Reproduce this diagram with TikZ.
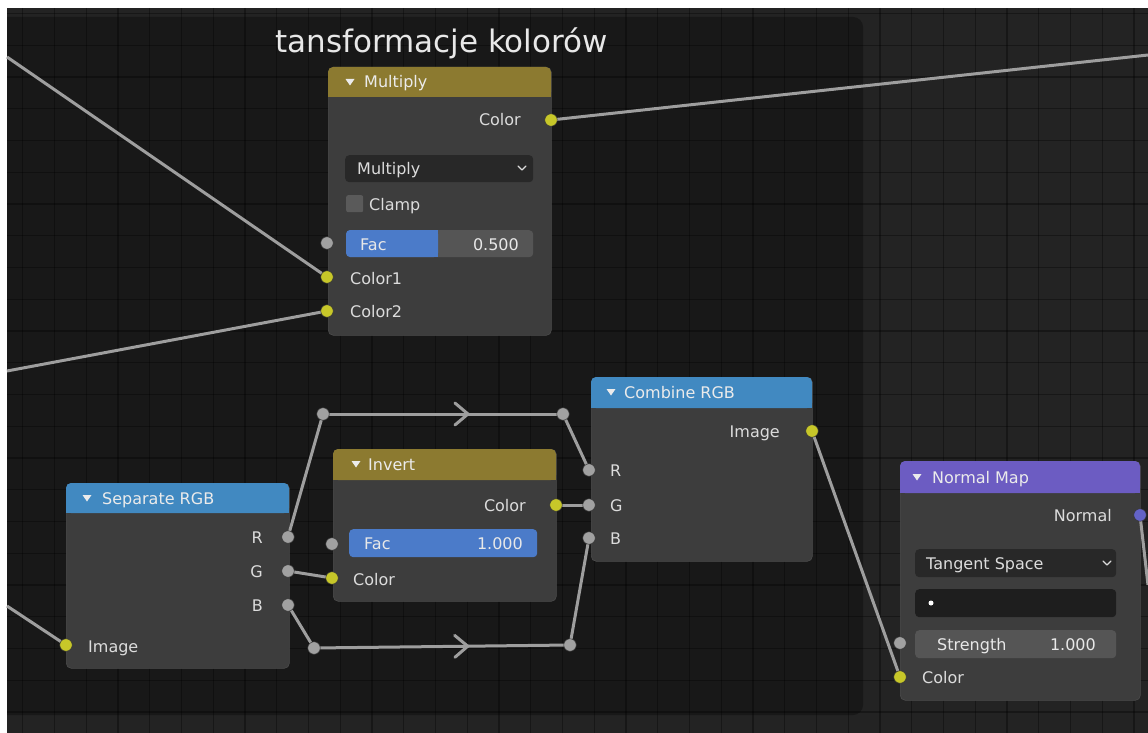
\documentclass[tikz,border=0pt]{standalone}
\usepackage{fontspec}
\setmainfont{DejaVu Sans}
\usetikzlibrary{decorations.markings}
\pgfdeclarelayer{bgl}
\pgfdeclarelayer{wirel}
\pgfsetlayers{bgl,wirel,main}
\definecolor{bgc}{HTML}{232323}
\definecolor{framec}{HTML}{181818}
\definecolor{bodyc}{HTML}{3D3D3D}
\definecolor{olivec}{HTML}{8C7A30}
\definecolor{bluehc}{HTML}{4189C1}
\definecolor{purplec}{HTML}{6C5CC2}
\definecolor{facblue}{HTML}{4B7BC9}
\definecolor{slgray}{HTML}{555555}
\definecolor{ddc}{HTML}{282828}
\definecolor{fieldc}{HTML}{1E1E1E}
\definecolor{txtc}{HTML}{DCDCDC}
\definecolor{titlec}{HTML}{E8E8E8}
\definecolor{wirec}{HTML}{9E9E9E}
\definecolor{ysockc}{HTML}{C7C729}
\definecolor{gsockc}{HTML}{A1A1A1}
\definecolor{bsockc}{HTML}{6363C7}
\definecolor{cbc}{HTML}{5A5A5A}
\tikzset{
  nbody/.style={anchor=north west, fill=bodyc, draw=black!70, line width=0.6pt, rounded corners=5pt, inner sep=0pt},
  widget/.style={anchor=north west, rounded corners=4pt, inner sep=0pt, draw=none},
  lbl/.style={text=txtc, font=\fontsize{16}{18}\selectfont, inner sep=0pt},
  hlbl/.style={text=white!92!black, font=\fontsize{16}{18}\selectfont, inner sep=0pt},
  sock/.style={circle, minimum size=12.5pt, inner sep=0pt, fill=#1, draw=black!80, line width=0.5pt},
  wire/.style={draw=wirec, line width=3pt, line cap=round},
  edgewire/.style={draw=wirec, line width=3pt, line cap=butt},
  gridline/.style={draw=black, opacity=0.32, line width=1.2pt},
  chev/.style={postaction={decorate}, decoration={markings, mark=at position #1 with {\draw[draw=wirec, line width=3pt, line cap=round, line join=round] (-13,-11) -- (0,0) -- (-13,11);}}}
}
\newcommand{\hdrtri}[2]{\fill[white!92!black] (#1-4.5,#2-3) -- (#1+4.5,#2-3) -- (#1,#2+3.5) -- cycle;}
\newcommand{\ddchev}[2]{\draw[txtc, line width=1.3pt, line cap=round, line join=round] (#1-4,#2-2) -- (#1,#2+2) -- (#1+4,#2-2);}
\begin{document}
\begin{tikzpicture}[x=1pt,y=-1pt]
\useasboundingbox (0,0) rectangle (1148,733);
\begin{pgfonlayer}{bgl}
\fill[white] (0,0) rectangle (1148,733);
\begin{scope}
\clip (7,8) rectangle (1148,733);
\fill[bgc] (7,8) rectangle (1148,733);
\fill[framec, rounded corners=10pt] (-20,17) rectangle (863,715);
\foreach \i in {0,...,37} { \draw[gridline] ({-9+31.75*\i},8) -- ({-9+31.75*\i},733); }
\foreach \j in {0,...,24} { \draw[gridline] (7,{-18.25+31.75*\j}) -- (1148,{-18.25+31.75*\j}); }
\end{scope}
\node[text=titlec, font=\fontsize{31}{35}\selectfont, inner sep=0pt, anchor=base west] (title) at (275,53) {tansformacje kolorów};

% ---------- Multiply ----------
\node[nbody, minimum width=223pt, minimum height=268pt] (mulbox) at (328,67) {};
\fill[olivec, rounded corners=5pt] (328,67) rectangle (551,97);
\fill[olivec] (328,88) rectangle (551,97);
\hdrtri{350}{82}
\node[hlbl, anchor=base west] (multitle) at (364,88) {Multiply};
\node[lbl, anchor=base east] (muloutlbl) at (521,126) {Color};
\node[widget, fill=ddc, minimum width=188pt, minimum height=27pt] (muldd) at (345,155) {};
\node[lbl, anchor=base west] (mulddlbl) at (357,174) {Multiply};
\ddchev{522}{168}
\node[widget, fill=cbc, rounded corners=2pt, minimum width=17pt, minimum height=17pt] (clampbox) at (346,195) {};
\node[lbl, anchor=base west] (clamplbl) at (369,210) {Clamp};
\node[widget, fill=slgray, minimum width=187pt, minimum height=27pt] (mulfac) at (346,230) {};
\fill[facblue, rounded corners=4pt] (346,230) rectangle (438,257);
\fill[facblue] (430,230) rectangle (438,257);
\node[lbl, text=titlec, anchor=base west] (mulfaclbl) at (360,250) {Fac};
\node[lbl, text=titlec, anchor=base east] (mulfacval) at (519,250) {0.500};
\node[lbl, anchor=base west] (mulc1lbl) at (350,284) {Color1};
\node[lbl, anchor=base west] (mulc2lbl) at (350,317) {Color2};

% ---------- Invert ----------
\node[nbody, minimum width=223pt, minimum height=152pt] (invbox) at (333,449) {};
\fill[olivec, rounded corners=5pt] (333,449) rectangle (556,480);
\fill[olivec] (333,470) rectangle (556,480);
\hdrtri{356}{464}
\node[hlbl, anchor=base west] (invtitle) at (368,470) {Invert};
\node[lbl, anchor=base east] (invoutlbl) at (526,511) {Color};
\node[widget, fill=facblue, minimum width=188pt, minimum height=28pt] (invfacw) at (349,529) {};
\node[lbl, text=titlec, anchor=base west] (invfaclbl) at (364,549) {Fac};
\node[lbl, text=titlec, anchor=base east] (invfacval) at (523,549) {1.000};
\node[lbl, anchor=base west] (invcollbl) at (353,585) {Color};

% ---------- Separate RGB ----------
\node[nbody, minimum width=223pt, minimum height=185pt] (sepbox) at (66,483) {};
\fill[bluehc, rounded corners=5pt] (66,483) rectangle (289,513);
\fill[bluehc] (66,504) rectangle (289,513);
\hdrtri{87}{498}
\node[hlbl, anchor=base west] (septitle) at (102,504) {Separate RGB};
\node[lbl, anchor=base east] (seprlbl) at (263,543) {R};
\node[lbl, anchor=base east] (sepglbl) at (263,577) {G};
\node[lbl, anchor=base east] (sepblbl) at (263,611) {B};
\node[lbl, anchor=base west] (sepimglbl) at (88,652) {Image};

% ---------- Combine RGB ----------
\node[nbody, minimum width=221pt, minimum height=184pt] (combox) at (591,377) {};
\fill[bluehc, rounded corners=5pt] (591,377) rectangle (812,408);
\fill[bluehc] (591,398) rectangle (812,408);
\hdrtri{611}{392}
\node[hlbl, anchor=base west] (comtitle) at (624,398) {Combine RGB};
\node[lbl, anchor=base east] (comoutlbl) at (780,437) {Image};
\node[lbl, anchor=base west] (comrlbl) at (610,476) {R};
\node[lbl, anchor=base west] (comglbl) at (610,511) {G};
\node[lbl, anchor=base west] (comblbl) at (610,544) {B};

% ---------- Normal Map ----------
\node[nbody, minimum width=240pt, minimum height=239pt] (nmbox) at (900,461) {};
\fill[purplec, rounded corners=5pt] (900,461) rectangle (1140,493);
\fill[purplec] (900,483) rectangle (1140,493);
\hdrtri{917}{477}
\node[hlbl, anchor=base west] (nmtitle) at (932,483) {Normal Map};
\node[lbl, anchor=base east] (nmoutlbl) at (1112,521) {Normal};
\node[widget, fill=ddc, minimum width=201pt, minimum height=28pt] (nmdd) at (915,549) {};
\node[lbl, anchor=base west] (nmddlbl) at (926,569) {Tangent Space};
\ddchev{1107}{563}
\node[widget, fill=fieldc, minimum width=201pt, minimum height=28pt] (nmuv) at (915,589) {};
\fill[white] (931,603) circle (2.5);
\node[widget, fill=slgray, minimum width=201pt, minimum height=28pt] (nmstrw) at (915,630) {};
\node[lbl, text=titlec, anchor=base west] (nmstrlbl) at (937,650) {Strength};
\node[lbl, text=titlec, anchor=base east] (nmstrval) at (1096,650) {1.000};
\node[lbl, anchor=base west] (nmcollbl) at (922,683) {Color};
\end{pgfonlayer}

% ---------- sockets ----------
\node[sock=ysockc] (mulout) at (551,120) {};
\node[sock=gsockc] (mulfacin) at (327,243) {};
\node[sock=ysockc] (mulc1) at (327,277) {};
\node[sock=ysockc] (mulc2) at (327,311) {};
\node[sock=ysockc] (invout) at (556,505) {};
\node[sock=gsockc] (invfacin) at (332,544) {};
\node[sock=ysockc] (invcol) at (332,578) {};
\node[sock=gsockc] (sepr) at (288,537) {};
\node[sock=gsockc] (sepg) at (288,571) {};
\node[sock=gsockc] (sepb) at (288,605) {};
\node[sock=ysockc] (sepimg) at (66,645) {};
\node[sock=ysockc] (combout) at (812,431) {};
\node[sock=gsockc] (combr) at (589,470) {};
\node[sock=gsockc] (combg) at (589,505) {};
\node[sock=gsockc] (combb) at (589,538) {};
\node[sock=bsockc] (nmout) at (1140,515) {};
\node[sock=gsockc] (nmstr) at (900,643) {};
\node[sock=ysockc] (nmcol) at (900,677) {};
\node[sock=gsockc] (rr1) at (323,414) {};
\node[sock=gsockc] (rr2) at (563,414) {};
\node[sock=gsockc] (rr3) at (314,648) {};
\node[sock=gsockc] (rr4) at (570,645) {};
\coordinate (eTL) at (7,57);
\coordinate (eL) at (7,371);
\coordinate (eLI) at (7,606);
\coordinate (eTR) at (1148,55);
\coordinate (eR) at (1148,585);

% ---------- wires ----------
\begin{pgfonlayer}{wirel}
\draw[edgewire] (eTL) -- (mulc1.center);
\draw[edgewire] (eL) -- (mulc2.center);
\draw[edgewire] (eLI) -- (sepimg.center);
\draw[edgewire] (mulout.center) -- (eTR);
\draw[edgewire] (nmout.center) -- (eR);
\draw[wire] (sepr) -- (rr1);
\draw[wire, chev=0.61] (rr1) -- (rr2);
\draw[wire] (rr2) -- (combr);
\draw[wire] (sepb) -- (rr3);
\draw[wire, chev=0.606] (rr3) -- (rr4);
\draw[wire] (rr4) -- (combb);
\draw[wire] (sepg) -- (invcol);
\draw[wire] (invout) -- (combg);
\draw[wire] (combout) -- (nmcol);
\end{pgfonlayer}
\end{tikzpicture}
\end{document}
